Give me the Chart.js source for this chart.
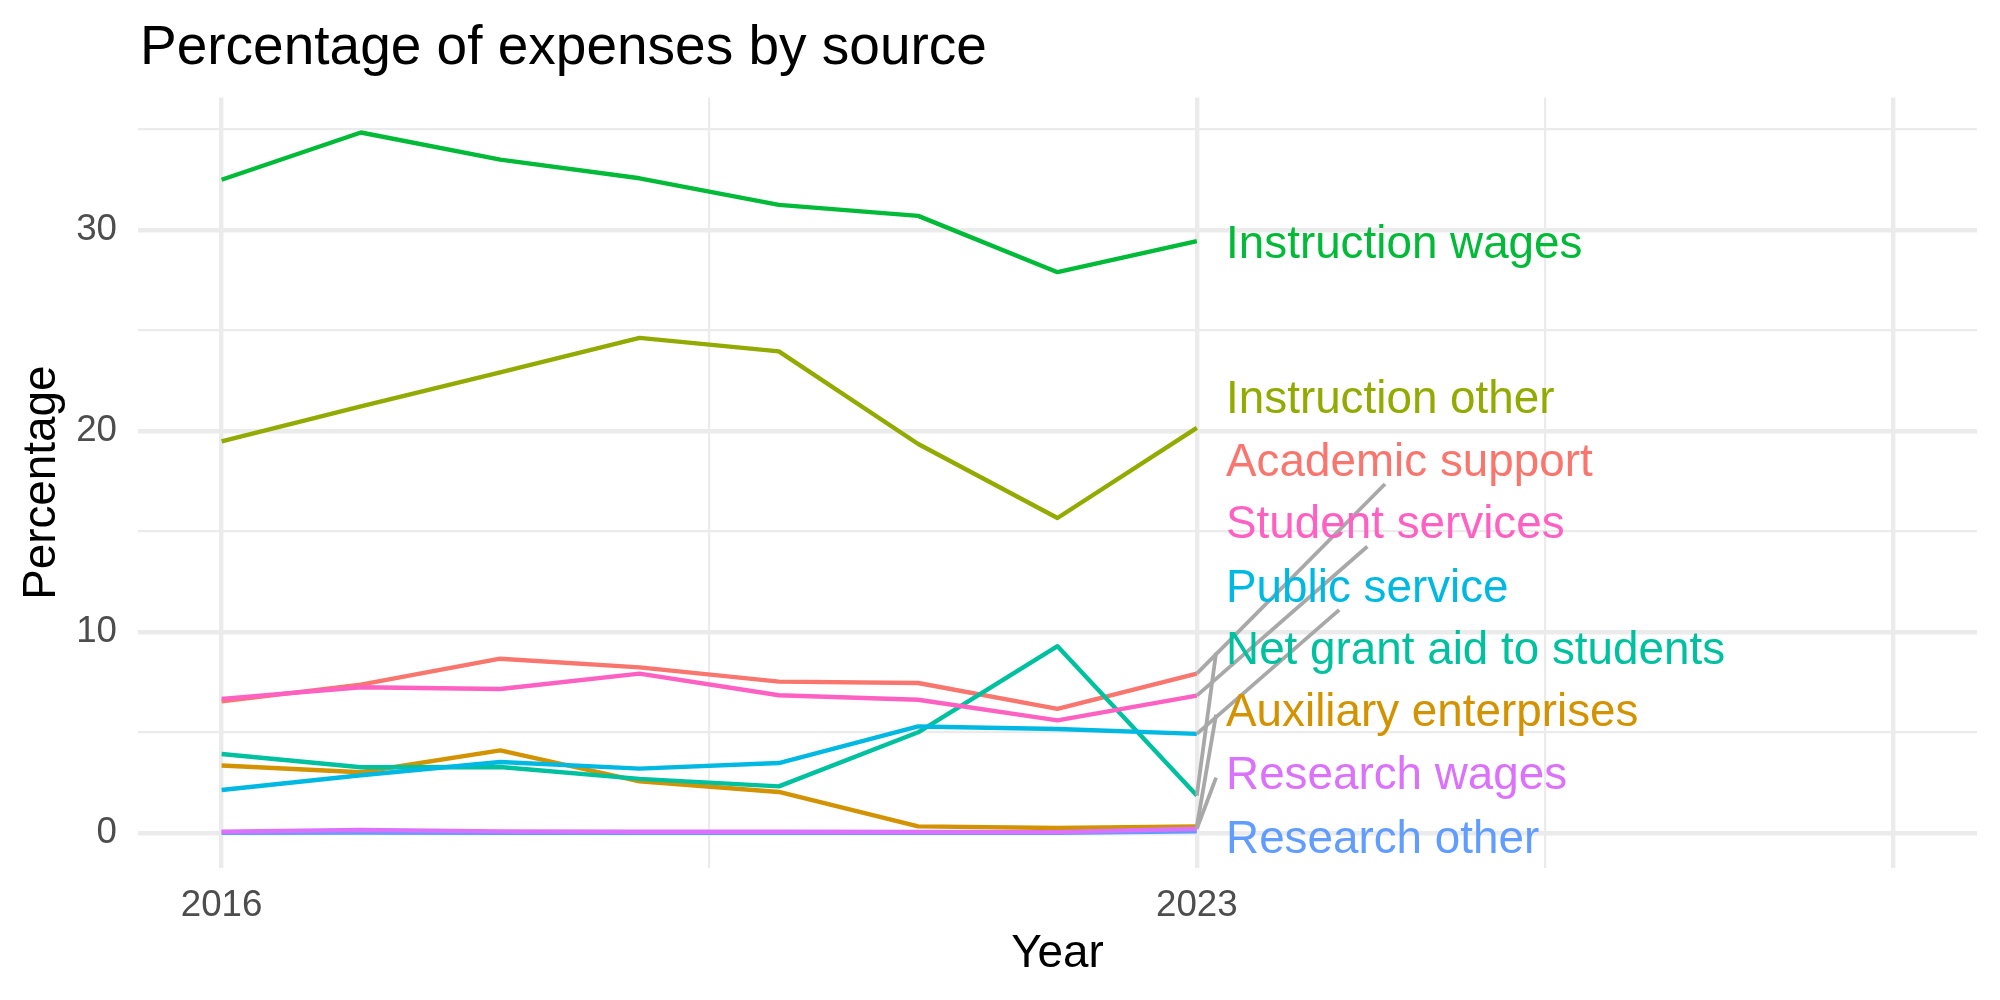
<!DOCTYPE html>
<html><head><meta charset="utf-8">
<script src="https://cdn.jsdelivr.net/npm/chart.js@4.4.1/dist/chart.umd.min.js"></script>
<style>html,body{margin:0;padding:0;background:#fff;}canvas{display:block;}</style>
</head><body>
<canvas id="c" width="2000" height="1000"></canvas>
<script>
// ---- data ----
const years = [2016, 2017, 2018, 2019, 2020, 2021, 2022, 2023];
const academicSupport      = [6.55, 7.38, 8.67, 8.24, 7.53, 7.46, 6.17, 7.93];
const auxiliaryEnterprises = [3.36, 3.02, 4.11, 2.57, 2.04, 0.33, 0.25, 0.33];
const instructionOther     = [19.48, 21.22, 22.92, 24.63, 23.96, 19.35, 15.67, 20.15];
const instructionWages     = [32.5, 34.85, 33.5, 32.57, 31.25, 30.7, 27.9, 29.44];
const netGrantAid          = [3.93, 3.27, 3.28, 2.69, 2.32, 5.01, 9.29, 1.86];
const publicService        = [2.14, 2.87, 3.53, 3.2, 3.48, 5.3, 5.17, 4.93];
const researchOther        = [0.01, 0.02, 0.01, 0.01, 0.01, 0.01, 0.01, 0.08];
const researchWages        = [0.06, 0.15, 0.08, 0.06, 0.06, 0.05, 0.04, 0.21];
const studentServices      = [6.67, 7.25, 7.16, 7.93, 6.85, 6.63, 5.6, 6.83];

const seriesNames = ['Academic support', 'Auxiliary enterprises', 'Instruction other', 'Instruction wages',
  'Net grant aid to students', 'Public service', 'Research other', 'Research wages', 'Student services'];
const seriesValues = [academicSupport, auxiliaryEnterprises, instructionOther, instructionWages,
  netGrantAid, publicService, researchOther, researchWages, studentServices];

const xBreaks = [2016, 2019.5, 2023, 2025.5, 2028];
const xMajorBreaks = [2016, 2023, 2028];
const xLabeledBreaks = [2016, 2023];
const yBreaks = [0, 5, 10, 15, 20, 25, 30, 35];
const yLabeledBreaks = [0, 10, 20, 30];

// ---- styling / layout ----
const seriesColors = ['#F8766D', '#D39200', '#93AA00', '#00BA38', '#00C19F', '#00B9E3', '#619CFF', '#DB72FB', '#FF61C3'];
// repelled label centres (data units) and how each label's connector is attached
const labelCenterY = [18.58, 6.14, 21.72, 29.43, 9.22, 12.32, -0.2, 3.0, 15.47];
const segmentMode = ['center', 'left', 'none', 'none', 'left', 'center', 'none', 'left', 'center'];
const labelNudgeX = 0.21;

const FONT = '"Liberation Sans", Arial, Helvetica, sans-serif';
const TITLE_PX = 55, AXIS_TITLE_PX = 45.8, TICK_PX = 36.7, LABEL_PX = 45.8;
const GRID = '#EBEBEB';

const datasets = seriesNames.map((name, i) => ({
  label: name,
  data: years.map((yr, j) => ({ x: yr, y: seriesValues[i][j] })),
  borderColor: seriesColors[i],
  backgroundColor: seriesColors[i],
  borderWidth: 4.4,
  pointRadius: 0,
  borderJoinStyle: 'round',
  borderCapStyle: 'butt',
  tension: 0,
  fill: false,
  order: seriesNames.length - i
}));

const overlay = {
  id: 'overlay',
  afterDatasetsDraw(chart) {
    const ctx = chart.ctx, xs = chart.scales.x, ys = chart.scales.y;
    const lastIdx = years.length - 1;
    ctx.save();
    ctx.font = LABEL_PX + 'px ' + FONT;
    const left = xs.getPixelForValue(years[lastIdx] + labelNudgeX);
    const pad = 10, halfH = 24.5;
    ctx.strokeStyle = '#A8A8A8';
    ctx.lineWidth = 3.8;
    ctx.lineCap = 'butt';
    seriesNames.forEach((name, i) => {
      if (segmentMode[i] === 'none') return;
      const px = xs.getPixelForValue(years[lastIdx]);
      const py = ys.getPixelForValue(seriesValues[i][lastIdx]);
      const w = ctx.measureText(name).width;
      const cy = ys.getPixelForValue(labelCenterY[i]);
      let ex, ey;
      if (segmentMode[i] === 'center') {
        const cx = left + w / 2;
        const bottom = cy + halfH;
        const t = (py - bottom) / (py - cy);
        ex = px + t * (cx - px);
        ey = bottom;
      } else {
        ex = left - pad;
        ey = cy + 5;
      }
      ctx.beginPath();
      ctx.moveTo(px, py);
      ctx.lineTo(ex, ey);
      ctx.stroke();
    });
    ctx.textAlign = 'left';
    ctx.textBaseline = 'alphabetic';
    seriesNames.forEach((name, i) => {
      const cy = ys.getPixelForValue(labelCenterY[i]);
      ctx.fillStyle = seriesColors[i];
      ctx.fillText(name, left, cy + LABEL_PX * 0.358);
    });
    ctx.restore();
  },
  afterDraw(chart) {
    const ctx = chart.ctx, ca = chart.chartArea;
    ctx.save();
    ctx.fillStyle = '#000';
    ctx.textBaseline = 'alphabetic';
    ctx.font = TITLE_PX + 'px ' + FONT;
    ctx.textAlign = 'left';
    ctx.fillText('Percentage of expenses by source', 140, 64);
    ctx.font = AXIS_TITLE_PX + 'px ' + FONT;
    ctx.textAlign = 'center';
    ctx.fillText('Year', (ca.left + ca.right) / 2, 967);
    ctx.translate(55, (ca.top + ca.bottom) / 2);
    ctx.rotate(-Math.PI / 2);
    ctx.fillText('Percentage', 0, 0);
    ctx.restore();
  }
};

new Chart(document.getElementById('c'), {
  type: 'line',
  data: { datasets },
  options: {
    responsive: false,
    animation: false,
    devicePixelRatio: 1,
    layout: { padding: { top: 97.5, right: 23, bottom: 0, left: 0 } },
    plugins: { legend: { display: false }, tooltip: { enabled: false }, title: { display: false } },
    scales: {
      x: {
        type: 'linear',
        min: 2015.4, max: 2028.6,
        afterBuildTicks: (s) => { s.ticks = xBreaks.map(v => ({ value: v })); },
        afterFit: (s) => { s.height = 132; },
        grid: {
          color: GRID,
          lineWidth: (c) => (c.tick && xMajorBreaks.includes(c.tick.value)) ? 4.4 : 2.2,
          drawTicks: false
        },
        border: { display: false },
        ticks: {
          autoSkip: false, maxRotation: 0, padding: 15.5,
          color: '#4D4D4D',
          font: { family: FONT, size: TICK_PX },
          callback: (v) => xLabeledBreaks.includes(v) ? String(v) : ''
        }
      },
      y: {
        type: 'linear',
        min: -1.7425, max: 36.59,
        afterBuildTicks: (s) => { s.ticks = yBreaks.map(v => ({ value: v })); },
        afterFit: (s) => { s.width = 138; },
        grid: {
          color: GRID,
          lineWidth: (c) => (c.tick && yLabeledBreaks.includes(c.tick.value)) ? 4.4 : 2.2,
          drawTicks: false
        },
        border: { display: false },
        ticks: {
          autoSkip: false, padding: 21,
          color: '#4D4D4D',
          font: { family: FONT, size: TICK_PX },
          callback: (v) => yLabeledBreaks.includes(v) ? String(v) : ''
        }
      }
    }
  },
  plugins: [overlay]
});
</script>
</body></html>
